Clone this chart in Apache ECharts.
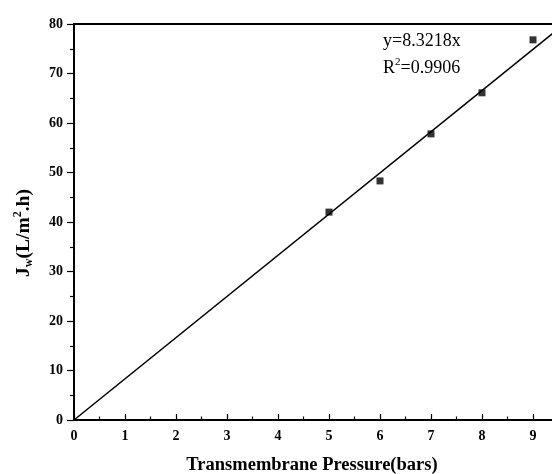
<!DOCTYPE html>
<html>
<head>
<meta charset="utf-8">
<script src="https://cdn.jsdelivr.net/npm/echarts@6/dist/echarts.min.js"></script>
<style>
  html, body { margin: 0; padding: 0; background: #fff; }
  #chart { width: 552px; height: 474px; }
</style>
</head>
<body>
<div id="chart"></div>
<script>
// Measured water flux against transmembrane pressure
const pressure = [5, 6, 7, 8, 9];
const flux = [42.0, 48.3, 57.8, 66.1, 76.8];

// Linear fit through the origin
const fitSlope = 8.3218;
const fitR2 = '0.9906';
const fitRange = [0, 10];

const xTicks = ['0', '1', '2', '3', '4', '5', '6', '7', '8', '9'];
const yTicks = ['0', '10', '20', '30', '40', '50', '60', '70', '80'];

const serif = '"Liberation Serif", "Times New Roman", serif';

const chart = echarts.init(document.getElementById('chart'), null, { renderer: 'canvas' });

chart.setOption({
  animation: false,
  backgroundColor: '#fff',
  grid: {
    left: 74, top: 24, bottom: 54, right: -32,
    outerBoundsMode: 'none',
    containLabel: false,
    show: true, borderColor: '#000', borderWidth: 1.8, backgroundColor: 'transparent'
  },
  xAxis: {
    type: 'value',
    min: 0, max: 10, interval: 1,
    name: 'Transmembrane Pressure(bars)',
    nameLocation: 'middle',
    nameGap: 36,
    nameTextStyle: {
      fontFamily: serif, fontWeight: 'bold', fontSize: 18.5, color: '#000',
      padding: [0, 34, 0, 0]
    },
    axisLine: { lineStyle: { color: '#000', width: 2 } },
    axisTick: { inside: true, length: 6, lineStyle: { color: '#000', width: 1.2 } },
    minorTick: { show: true, splitNumber: 2, length: 3.5, lineStyle: { color: '#000', width: 1.2 } },
    splitLine: { show: false },
    axisLabel: {
      margin: 9,
      fontFamily: serif, fontWeight: 'bold', fontSize: 14, color: '#000',
      formatter: v => (xTicks.indexOf(String(v)) >= 0 ? String(v) : '')
    }
  },
  yAxis: {
    type: 'value',
    min: 0, max: 80, interval: 10,
    name: '{b|J}{sub|w}{b|(L/m}{sup|2}{b|.h)}',
    nameLocation: 'middle',
    nameGap: 39,
    nameRotate: 90,
    nameTextStyle: {
      padding: [0, 22, 0, 0],
      rich: {
        b: { fontFamily: serif, fontWeight: 'bold', fontSize: 19.5, color: '#000' },
        sub: { fontFamily: serif, fontWeight: 'bold', fontSize: 12, color: '#000', padding: [11, 0, 0, 0] },
        sup: { fontFamily: serif, fontWeight: 'bold', fontSize: 12, color: '#000', padding: [0, 0, 11, 0] }
      }
    },
    axisLine: { lineStyle: { color: '#000', width: 2 } },
    axisTick: { inside: false, length: 7, lineStyle: { color: '#000', width: 1.2 } },
    minorTick: { show: true, splitNumber: 2, length: 4, lineStyle: { color: '#000', width: 1.2 } },
    splitLine: { show: false },
    axisLabel: {
      margin: 11,
      fontFamily: serif, fontWeight: 'bold', fontSize: 14, color: '#000',
      formatter: v => (yTicks.indexOf(String(v)) >= 0 ? String(v) : '')
    }
  },
  series: [
    {
      name: 'fit',
      type: 'line',
      data: fitRange.map(x => [x, fitSlope * x]),
      showSymbol: false,
      clip: true,
      lineStyle: { color: '#000', width: 1.5 },
      z: 2
    },
    {
      name: 'measured',
      type: 'scatter',
      data: pressure.map((p, i) => [p, flux[i]]),
      symbol: 'rect',
      symbolSize: 7,
      itemStyle: { color: '#000' },
      z: 3
    }
  ],
  graphic: [
    {
      type: 'text',
      left: 383, top: 32,
      style: {
        text: 'y=' + fitSlope + 'x',
        fontFamily: serif, fontSize: 18, fill: '#000'
      }
    },
    {
      type: 'text',
      left: 383, top: 57,
      style: {
        text: '{n|R}{s|2}{n|=' + fitR2 + '}',
        rich: {
          n: { fontFamily: serif, fontSize: 18, fill: '#000', color: '#000' },
          s: { fontFamily: serif, fontSize: 11, fill: '#000', color: '#000', padding: [0, 0, 11, 0] }
        }
      }
    }
  ]
});
</script>
</body>
</html>
